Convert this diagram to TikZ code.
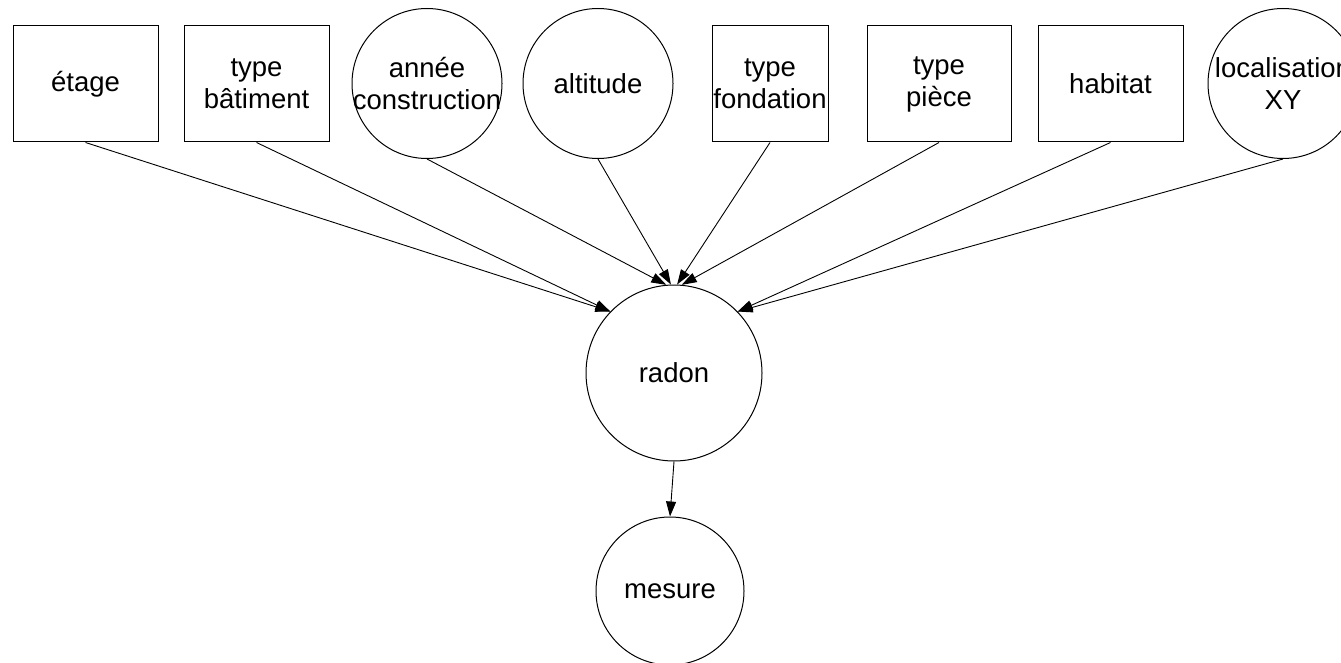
\documentclass[tikz,border=0pt]{standalone}
\usepackage{fontspec}
\setmainfont{Liberation Sans}
\usetikzlibrary{arrows.meta}
\begin{document}
\begin{tikzpicture}[x=1pt,y=-1pt,
  every node/.style={font=\fontsize{27.5}{32}\selectfont, align=center},
  boxnode/.style={draw, line width=1pt, rectangle, inner sep=0pt, minimum height=116pt},
  circnode/.style={draw, line width=1pt, circle, inner sep=0pt},
  edge/.style={line width=0.9pt, -{Triangle[length=15pt,width=10pt]}}]
\useasboundingbox (0,0) rectangle (1341,663);
\node[boxnode, minimum width=145pt] (etage) at (85.5,84) {étage};
\node[boxnode, minimum width=145pt] (batiment) at (256.5,84) {type\\bâtiment};
\node[circnode, minimum size=150pt, label=center:{année\\construction}] (annee) at (427,83.5) {};
\node[circnode, minimum size=150pt, label=center:{altitude}] (altitude) at (598,83.5) {};
\node[boxnode, minimum width=116pt] (fondation) at (770,84) {type\\fondation};
\node[boxnode, minimum width=144pt] (piece) at (939,84) {type\\pièce};
\node[boxnode, minimum width=145pt] (habitat) at (1110.5,84) {habitat};
\node[circnode, minimum size=150pt, label=center:{localisation\\XY}] (loc) at (1283,83.5) {};
\node[circnode, minimum size=176pt, label=center:{radon}] (radon) at (674,373) {};
\node[circnode, minimum size=148pt, label=center:{mesure}] (mesure) at (670,591) {};
\draw[edge] (etage.south) -- (radon.136);
\draw[edge] (batiment.south) -- (radon.136);
\draw[edge] (annee.south) -- (radon.95);
\draw[edge] (altitude.south) -- (radon.92);
\draw[edge] (fondation.south) -- (radon.88);
\draw[edge] (piece.south) -- (radon.85);
\draw[edge] (habitat.south) -- (radon.44);
\draw[edge] (loc.south) -- (radon.44);
\draw[edge] (radon.south) -- (mesure.north);
\end{tikzpicture}
\end{document}
